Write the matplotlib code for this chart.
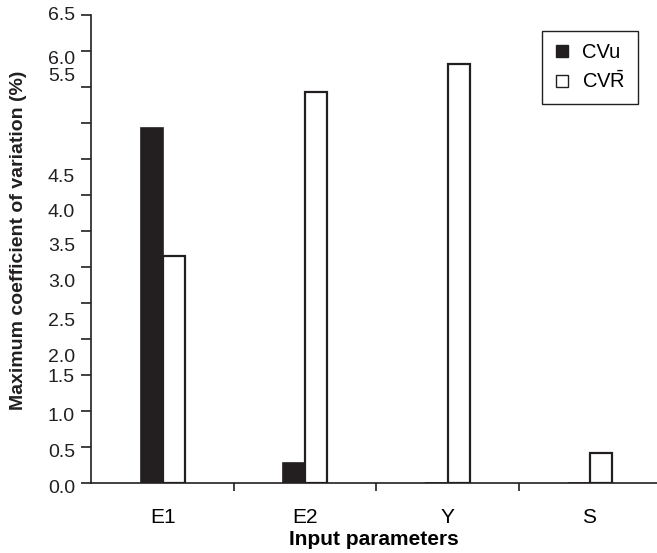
"""Maximum coefficient of variation per input parameter (CVu vs CVR-bar)."""
import numpy as np
import matplotlib.pyplot as plt
from matplotlib.lines import Line2D

plt.rcParams["font.family"] = ["Liberation Sans", "DejaVu Sans"]
plt.rcParams["mathtext.fontset"] = "custom"
plt.rcParams["mathtext.rm"] = "Liberation Sans"

categories = ["E1", "E2", "Y", "S"]
cv_u = [4.93, 0.28, 0.0, 0.0]
cv_r = [3.15, 5.43, 5.82, 0.42]

# y tick labels as printed in the source (they sit off their ticks there)
ytick_vals = np.arange(0, 6.51, 0.5)
ylabel_texts = ["0.0", "0.5", "1.0", "1.5", "2.0", "2.5", "3.0", "3.5",
                "4.0", "4.5", "5.5", "6.0", "6.5"]
ylabel_at = [-0.07, 0.43, 0.92, 1.47, 1.75, 2.25, 2.78, 3.28,
             3.76, 4.25, 5.64, 5.875, 6.5]

INK = "#231f20"
W = 0.155

fig = plt.figure(figsize=(6.57, 5.53), dpi=100)
ax = fig.add_axes([91 / 657, 70 / 553, 566 / 657, 468 / 553])

x = np.arange(len(categories))
ax.bar(x - W / 2, cv_u, W, color=INK, edgecolor=INK, linewidth=1.2)
ax.bar(x + W / 2, cv_r, W, color="white", edgecolor=INK, linewidth=1.6)

ax.set_xlim(-0.51, 3.475)
ax.set_ylim(0, 6.5)
for s in ("top", "right"):
    ax.spines[s].set_visible(False)
for s in ("left", "bottom"):
    ax.spines[s].set_color(INK)
    ax.spines[s].set_linewidth(1.2)

ax.set_xticks(x)
ax.set_xticklabels(categories, fontsize=15)
ax.tick_params(axis="x", which="major", length=0, pad=18)
ax.set_xticks(x[:-1] + 0.5, minor=True)
ax.tick_params(axis="x", which="minor", length=6, width=1.2, color=INK,
               direction="out")

ax.set_yticks(ytick_vals)
ax.set_yticklabels([""] * len(ytick_vals))
ax.tick_params(axis="y", length=7, width=1.2, color=INK, direction="out")
for txt, v in zip(ylabel_texts, ylabel_at):
    ax.annotate(txt, xy=(0, v), xycoords=("axes fraction", "data"),
                xytext=(-11.5, 0), textcoords="offset points",
                ha="right", va="center", fontsize=14, color=INK,
                annotation_clip=False)

ax.set_xlabel("Input parameters", fontsize=15, fontweight="bold", labelpad=2)
fig.text(19 / 657, 1 - 240 / 553, "Maximum coefficient of variation (%)",
         rotation=90, ha="center", va="center", fontsize=14,
         fontweight="bold", color=INK)

handles = [
    Line2D([0], [0], marker="s", linestyle="None", markersize=8.5,
           markerfacecolor=INK, markeredgecolor=INK, label="CVu"),
    Line2D([0], [0], marker="s", linestyle="None", markersize=8.5,
           markerfacecolor="white", markeredgecolor=INK, markeredgewidth=1.0,
           label=r"CV$\bar{\mathrm{R}}$"),
]
leg = ax.legend(handles=handles, loc="upper right",
                bbox_to_anchor=(0.966, 0.966), borderaxespad=0,
                fontsize=14.5, frameon=True, fancybox=False, framealpha=1,
                edgecolor=INK, handlelength=0.8, handletextpad=0.6,
                borderpad=0.6, labelspacing=0.4)
leg.get_frame().set_linewidth(1.0)

plt.savefig("out.png", dpi=100, facecolor="white")
